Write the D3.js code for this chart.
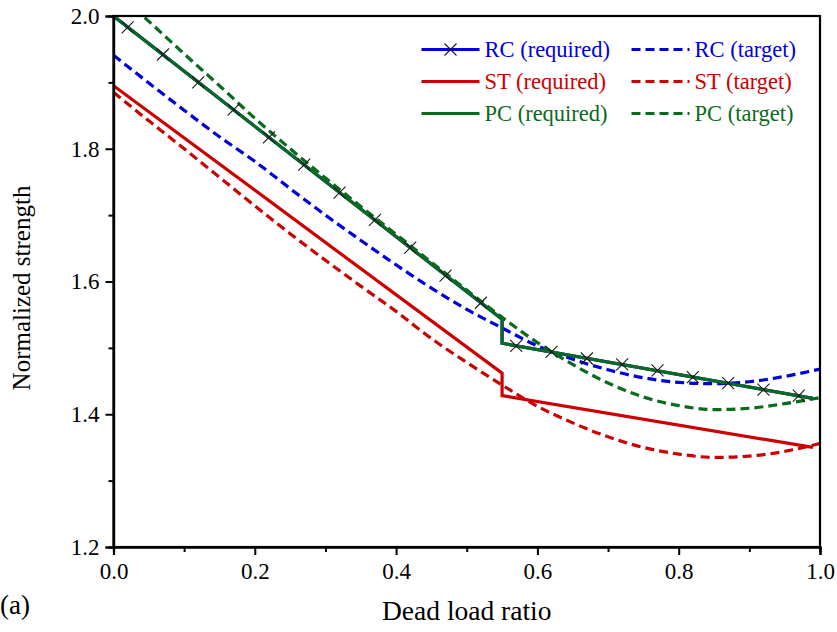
<!DOCTYPE html>
<html>
<head>
<meta charset="utf-8">
<script src="https://cdn.jsdelivr.net/npm/d3@7"></script>
<style>
  html, body { margin: 0; padding: 0; background: #fff; }
  svg { display: block; }
</style>
</head>
<body>
<svg id="chart" width="837" height="632" font-family="Liberation Serif"></svg>
<script>
// Dead load ratio grid for the smooth "target" curves
const targetX = [0, 0.05, 0.1, 0.15, 0.2, 0.25, 0.3, 0.35, 0.4, 0.45, 0.5,
                 0.55, 0.6, 0.65, 0.7, 0.75, 0.8, 0.85, 0.9, 0.95, 1.0];
const rcTarget = [1.941, 1.899, 1.858, 1.818, 1.781, 1.740, 1.700, 1.662, 1.625, 1.590, 1.558,
                  1.530, 1.503, 1.483, 1.467, 1.455, 1.448, 1.446, 1.449, 1.457, 1.468];
const stTarget = [1.885, 1.842, 1.800, 1.757, 1.714, 1.672, 1.632, 1.593, 1.555, 1.514, 1.478,
                  1.444, 1.412, 1.387, 1.366, 1.350, 1.340, 1.335, 1.337, 1.344, 1.356];
const pcTarget = [2.040, 1.992, 1.943, 1.895, 1.846, 1.800, 1.756, 1.713, 1.671, 1.629, 1.587,
                  1.546, 1.508, 1.475, 1.447, 1.426, 1.413, 1.407, 1.409, 1.416, 1.425];

// "Required" curves: straight segments with a step at 0.55
const requiredX = [0, 0.55, 0.55, 0.99];
const rcRequired = [2.000, 1.543, 1.507, 1.424];
const stRequired = [1.895, 1.462, 1.428, 1.350];
const pcRequired = [2.000, 1.543, 1.507, 1.424];

// Cross markers along the RC (required) curve
const markerX = [0.02, 0.07, 0.12, 0.17, 0.22, 0.27, 0.32, 0.37, 0.42, 0.47, 0.52,
                 0.57, 0.62, 0.67, 0.72, 0.77, 0.82, 0.87, 0.92, 0.97];
const rcMarkers = [1.983, 1.942, 1.900, 1.859, 1.817, 1.776, 1.734, 1.693, 1.651, 1.609, 1.568,
                   1.503, 1.494, 1.484, 1.475, 1.466, 1.456, 1.447, 1.437, 1.428];

// Axis ticks
const xMajorTicks = [0, 0.2, 0.4, 0.6, 0.8, 1.0];
const xMinorTicks = [0.1, 0.3, 0.5, 0.7, 0.9];
const yMajorTicks = [1.2, 1.4, 1.6, 1.8, 2.0];
const yMinorTicks = [1.3, 1.5, 1.7, 1.9];

const colors = { RC: "#0000dd", ST: "#cc0000", PC: "#0a6a1e" };
const SERIF = "Liberation Serif";

const svg = d3.select("#chart");
const margin = { left: 113.5, top: 16, right: 17, bottom: 85 };
const W = 837, H = 632;
const x = d3.scaleLinear().domain([0, 1]).range([margin.left, W - margin.right]);
const y = d3.scaleLinear().domain([1.2, 2.0]).range([H - margin.bottom, margin.top]);

// Apply the serif face and size to a text selection
const serif = (sel, size) => sel
  .attr("font-family", SERIF).style("font-family", `"${SERIF}"`)
  .attr("font-size", size).style("font-size", size + "px");

svg.append("defs").append("clipPath").attr("id", "plot-clip")
  .append("rect")
  .attr("x", x(0)).attr("y", y(2.0))
  .attr("width", x(1) - x(0)).attr("height", y(1.2) - y(2.0));

const plot = svg.append("g").attr("clip-path", "url(#plot-clip)");

const zip = (xs, ys) => xs.map((v, i) => [v, ys[i]]);
const smooth = d3.line().x(d => x(d[0])).y(d => y(d[1])).curve(d3.curveMonotoneX);
const straight = d3.line().x(d => x(d[0])).y(d => y(d[1]));

const DASH = "9,5";
const series = [
  { data: zip(requiredX, rcRequired), gen: straight, color: colors.RC, dash: null },
  { data: zip(targetX, rcTarget), gen: smooth, color: colors.RC, dash: DASH },
  { data: zip(requiredX, stRequired), gen: straight, color: colors.ST, dash: null },
  { data: zip(targetX, stTarget), gen: smooth, color: colors.ST, dash: DASH },
  { data: zip(requiredX, pcRequired), gen: straight, color: colors.PC, dash: null },
  { data: zip(targetX, pcTarget), gen: smooth, color: colors.PC, dash: DASH }
];

series.forEach(s => {
  plot.append("path")
    .attr("d", s.gen(s.data))
    .attr("fill", "none")
    .attr("stroke", s.color)
    .attr("stroke-width", 3.2)
    .attr("stroke-linejoin", "miter")
    .attr("stroke-dasharray", s.dash);
});

const crossPath = r => `M${-r},${-r}L${r},${r}M${-r},${r}L${r},${-r}`;

plot.selectAll("path.marker")
  .data(zip(markerX, rcMarkers))
  .join("path")
  .attr("class", "marker")
  .attr("transform", d => `translate(${x(d[0])},${y(d[1])})`)
  .attr("d", crossPath(6))
  .attr("stroke", "#1a1a1a")
  .attr("stroke-width", 1.1)
  .attr("fill", "none");

// Frame
svg.append("rect")
  .attr("x", x(0)).attr("y", y(2.0))
  .attr("width", x(1) - x(0)).attr("height", y(1.2) - y(2.0))
  .attr("fill", "none").attr("stroke", "#000").attr("stroke-width", 2.2);

// Axes (outward ticks, major and minor)
const fmt = d3.format(".1f");
const axes = svg.append("g");
axes.append("g").attr("transform", `translate(0,${y(1.2)})`)
  .call(d3.axisBottom(x).tickValues(xMajorTicks).tickFormat(fmt).tickSize(8).tickPadding(8));
axes.append("g").attr("transform", `translate(0,${y(1.2)})`)
  .call(d3.axisBottom(x).tickValues(xMinorTicks).tickFormat("").tickSize(5));
axes.append("g").attr("transform", `translate(${x(0)},0)`)
  .call(d3.axisLeft(y).tickValues(yMajorTicks).tickFormat(fmt).tickSize(8).tickPadding(6));
axes.append("g").attr("transform", `translate(${x(0)},0)`)
  .call(d3.axisLeft(y).tickValues(yMinorTicks).tickFormat("").tickSize(5));

axes.selectAll("g").attr("font-family", SERIF);
axes.selectAll(".domain").attr("stroke", "#000").attr("stroke-width", 2.2);
axes.selectAll(".tick line").attr("stroke", "#000").attr("stroke-width", 2);
axes.selectAll(".tick text").attr("fill", "#000").call(serif, 23);

// Axis titles and panel label
const titles = svg.append("g");
titles.append("text")
  .attr("x", (x(0) + x(1)) / 2).attr("y", 620)
  .attr("text-anchor", "middle")
  .call(serif, 27.5)
  .text("Dead load ratio");

titles.append("text")
  .attr("transform", `translate(30,288) rotate(-90)`)
  .attr("text-anchor", "middle")
  .call(serif, 25)
  .text("Normalized strength");

titles.append("text")
  .attr("x", 0).attr("y", 614)
  .call(serif, 27)
  .text("(a)");

// Legend
const legendItems = [
  { label: "RC (required)", color: colors.RC, dash: null, marker: true, col: 0, row: 0 },
  { label: "RC (target)", color: colors.RC, dash: DASH, marker: false, col: 1, row: 0 },
  { label: "ST (required)", color: colors.ST, dash: null, marker: false, col: 0, row: 1 },
  { label: "ST (target)", color: colors.ST, dash: DASH, marker: false, col: 1, row: 1 },
  { label: "PC (required)", color: colors.PC, dash: null, marker: false, col: 0, row: 2 },
  { label: "PC (target)", color: colors.PC, dash: DASH, marker: false, col: 1, row: 2 }
];
const colX = [421.5, 631.5];
const rowY = [49.5, 81.5, 113.5];
const legend = svg.append("g");
legendItems.forEach(it => {
  const lx = colX[it.col], ly = rowY[it.row];
  legend.append("line")
    .attr("x1", lx).attr("x2", lx + 58).attr("y1", ly).attr("y2", ly)
    .attr("stroke", it.color).attr("stroke-width", 3.2)
    .attr("stroke-dasharray", it.dash);
  if (it.marker) {
    legend.append("path")
      .attr("transform", `translate(${lx + 29},${ly})`)
      .attr("d", crossPath(6))
      .attr("stroke", "#1a1a1a").attr("stroke-width", 1.1).attr("fill", "none");
  }
  legend.append("text")
    .attr("x", lx + 63).attr("y", ly + 7)
    .attr("fill", it.color)
    .call(serif, 22.5)
    .text(it.label);
});
</script>
</body>
</html>
